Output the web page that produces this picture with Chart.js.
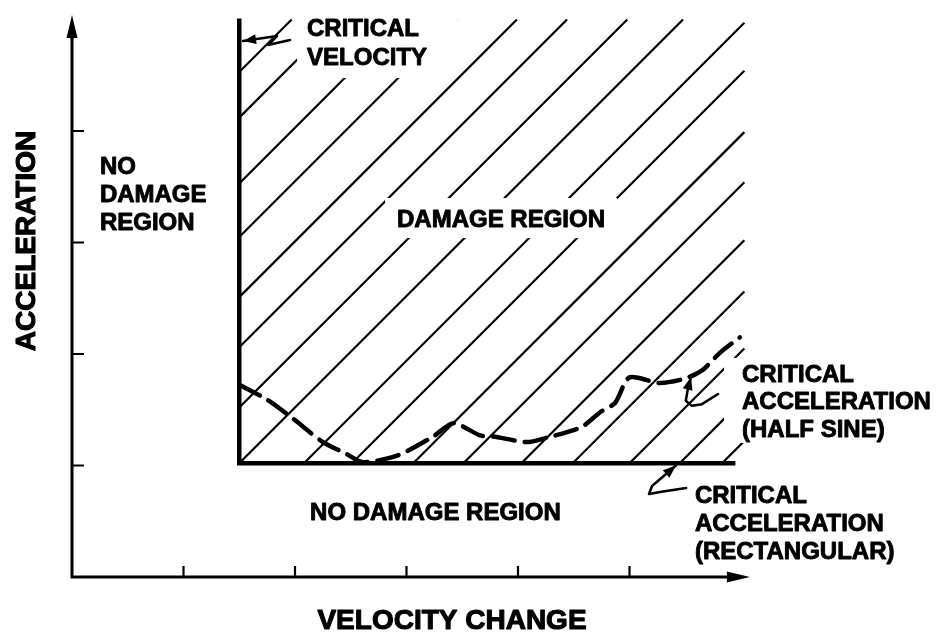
<!DOCTYPE html>
<html>
<head>
<meta charset="utf-8">
<script src="https://cdn.jsdelivr.net/npm/chart.js@4.4.0/dist/chart.umd.min.js"></script>
<style>
html, body { margin: 0; padding: 0; background: #fff; }
#wrap { width: 936px; height: 633px; }
</style>
</head>
<body>
<div id="wrap"><canvas id="myChart" width="936" height="633"></canvas></div>
<script>
// axis ticks (arbitrary units, no numbers shown on the original)
var xTicks = [1, 2, 3, 4, 5];
var yTicks = [1, 2, 3, 4];
var xAxisEnd = 6.08;
var yAxisEnd = 5.04;

// damage boundary: critical velocity (vertical) and critical acceleration, rectangular (horizontal)
var boundX = [1.5, 1.5, 5.95];
var boundY = [5.01, 1.02, 1.02];

// critical acceleration, half sine pulse (dashed curve)
var sineX = [1.51, 1.75, 1.97, 2.25, 2.45, 2.61, 2.92, 3.24, 3.42, 3.66, 3.78, 4.08, 4.26, 4.44, 4.58, 4.74, 4.87, 5.00, 5.27, 5.50, 5.66, 5.81, 5.99];
var sineY = [1.72, 1.59, 1.43, 1.21, 1.11, 1.03, 1.09, 1.26, 1.38, 1.27, 1.26, 1.21, 1.25, 1.30, 1.35, 1.48, 1.56, 1.79, 1.74, 1.78, 1.86, 2.01, 2.15];

// hatching of the damage region: lines x - y = k
var hatchK = [-3.03, -2.62, -2.03, -1.55, -1.01, -0.56, -0.02, 0.48, 1.06, 1.49, 2.04, 2.49, 3.01, 3.47, 3.98, 4.43, 4.81];
var hatchTop = 5.0;
var hatchRight = 6.03;

// text blocks (x, first baseline in axis units)
var labels = [
    { lines: ['NO', 'DAMAGE', 'REGION'], x: 0.25, y: 3.614, lh: 28 },
    { lines: ['CRITICAL', 'VELOCITY'], x: 2.108, y: 4.852, lh: 29, clear: [10, 18, 30, 13] },
    { lines: ['DAMAGE REGION'], x: 2.915, y: 3.139, lh: 28, clear: [12, 11, 12, 11] },
    { lines: ['CRITICAL', 'ACCELERATION', '(HALF SINE)'], x: 6.009, y: 1.749, lh: 27.5, clear: [18, 6, 0, 6] },
    { lines: ['CRITICAL', 'ACCELERATION', '(RECTANGULAR)'], x: 5.587, y: 0.664, lh: 28 },
    { lines: ['NO DAMAGE REGION'], x: 2.135, y: 0.511, lh: 28 }
];

// leader arrows (last point = arrow tip)
var leaders = [
    [[1.955, 4.816], [1.758, 4.771], [1.839, 4.852], [1.534, 4.807]],
    [[5.794, 1.641], [5.65, 1.55], [5.56, 1.535], [5.505, 1.58], [5.525, 1.695], [5.552, 1.794]],
    [[5.507, 0.798], [5.274, 0.762], [5.175, 0.744], [5.202, 0.816], [5.417, 1.0]]
];

function hatchSegment(k) {
    var x0 = boundX[0], y0 = boundY[1];
    var start = (x0 - k >= y0) ? { x: x0, y: x0 - k } : { x: y0 + k, y: y0 };
    var end = (hatchTop + k <= hatchRight) ? { x: hatchTop + k, y: hatchTop } : { x: hatchRight, y: hatchRight - k };
    return [start, end];
}

var datasets = [];
datasets.push({
    label: 'half sine',
    data: sineX.map(function (x, i) { return { x: x, y: sineY[i] }; }),
    showLine: true, borderColor: '#000', borderWidth: 4.5, borderDash: [22, 10],
    borderCapStyle: 'round', pointRadius: 0, tension: 0.25, order: 0
});
datasets.push({
    label: 'boundary',
    data: boundX.map(function (x, i) { return { x: x, y: boundY[i] }; }),
    showLine: true, borderColor: '#000', borderWidth: 4.5, borderJoinStyle: 'miter',
    pointRadius: 0, tension: 0, order: 1
});
hatchK.forEach(function (k) {
    datasets.push({
        label: 'hatch',
        data: hatchSegment(k),
        showLine: true, borderColor: '#000', borderWidth: 2.2,
        pointRadius: 0, tension: 0, order: 2
    });
});

function arrowHead(ctx, x0, y0, x1, y1, len, half) {
    var a = Math.atan2(y1 - y0, x1 - x0);
    ctx.beginPath();
    ctx.moveTo(x1, y1);
    ctx.lineTo(x1 - len * Math.cos(a) + half * Math.sin(a), y1 - len * Math.sin(a) - half * Math.cos(a));
    ctx.lineTo(x1 - len * Math.cos(a) - half * Math.sin(a), y1 - len * Math.sin(a) + half * Math.cos(a));
    ctx.closePath();
    ctx.fill();
}

var FONT = '"Liberation Sans", Arial, Helvetica, sans-serif';

// heavy print-style lettering
function boldText(ctx, s, x, y) {
    ctx.fillText(s, x, y);
    ctx.strokeText(s, x, y);
}

var drawingPlugin = {
    id: 'drawing',
    afterDatasetsDraw: function (chart) {
        var ctx = chart.ctx;
        var xs = chart.scales.x, ys = chart.scales.y;
        var px = function (v) { return xs.getPixelForValue(v); };
        var py = function (v) { return ys.getPixelForValue(v); };
        ctx.save();
        ctx.fillStyle = '#000';
        ctx.strokeStyle = '#000';

        // axes with arrows
        var ox = px(0), oy = py(0);
        ctx.lineWidth = 3;
        ctx.lineCap = 'butt';
        ctx.beginPath();
        ctx.moveTo(ox, oy + 1.5);
        ctx.lineTo(ox, py(yAxisEnd) + 18);
        ctx.moveTo(ox - 1.5, oy);
        ctx.lineTo(px(xAxisEnd) - 18, oy);
        ctx.stroke();
        arrowHead(ctx, ox, oy, ox, py(yAxisEnd), 23, 5.5);
        arrowHead(ctx, ox, oy, px(xAxisEnd), oy, 23, 5.5);

        // ticks pointing inward
        ctx.lineWidth = 2.2;
        ctx.beginPath();
        xTicks.forEach(function (t) {
            ctx.moveTo(px(t), oy);
            ctx.lineTo(px(t), oy - 11);
        });
        yTicks.forEach(function (t) {
            ctx.moveTo(ox, py(t));
            ctx.lineTo(ox + 12, py(t));
        });
        ctx.stroke();

        // labels
        ctx.font = 'bold 24px ' + FONT;
        ctx.textBaseline = 'alphabetic';
        ctx.textAlign = 'left';
        ctx.lineWidth = 0.9;
        ctx.lineJoin = 'round';
        labels.forEach(function (b) {
            var x = px(b.x), y = py(b.y);
            if (b.clear) {
                var w = 0;
                b.lines.forEach(function (s) { w = Math.max(w, ctx.measureText(s).width); });
                var top = y - 18, bottom = y + (b.lines.length - 1) * b.lh;
                ctx.fillStyle = '#fff';
                ctx.fillRect(x - b.clear[0], top - b.clear[1], w + b.clear[0] + b.clear[2], bottom - top + b.clear[1] + b.clear[3]);
                ctx.fillStyle = '#000';
            }
            b.lines.forEach(function (s, i) {
                boldText(ctx, s, x, y + i * b.lh);
            });
        });

        // leader arrows
        ctx.lineWidth = 2.5;
        ctx.lineCap = 'round';
        leaders.forEach(function (pts) {
            ctx.beginPath();
            pts.forEach(function (p, i) {
                if (i === 0) ctx.moveTo(px(p[0]), py(p[1]));
                else ctx.lineTo(px(p[0]), py(p[1]));
            });
            ctx.stroke();
            var a = pts[pts.length - 2], b = pts[pts.length - 1];
            arrowHead(ctx, px(a[0]), py(a[1]), px(b[0]), py(b[1]), 13, 5);
        });

        // axis titles
        ctx.font = 'bold 28px ' + FONT;
        ctx.textAlign = 'center';
        ctx.lineWidth = 1.1;
        boldText(ctx, 'VELOCITY CHANGE', 452, 629);
        ctx.save();
        ctx.translate(35, 241);
        ctx.rotate(-Math.PI / 2);
        boldText(ctx, 'ACCELERATION', 0, 0);
        ctx.restore();

        ctx.restore();
    }
};

var config = {
    type: 'scatter',
    data: { datasets: datasets },
    options: {
        responsive: false,
        animation: false,
        events: [],
        layout: { padding: 0 },
        scales: {
            x: { type: 'linear', min: -72 / 111.5, max: 864 / 111.5, display: false },
            y: { type: 'linear', min: -56 / 111.5, max: 577 / 111.5, display: false }
        },
        plugins: {
            legend: { display: false },
            tooltip: { enabled: false }
        }
    },
    plugins: [drawingPlugin]
};

var chart = new Chart(document.getElementById('myChart'), config);
</script>
</body>
</html>
